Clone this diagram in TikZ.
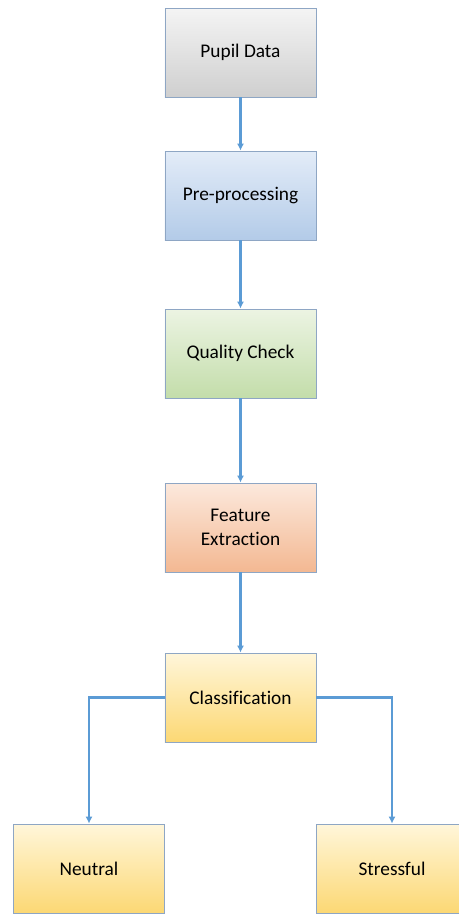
\documentclass[tikz,border=0pt]{standalone}
\usepackage{fontspec}
\setmainfont{Carlito}[Ligatures=NoCommon]
\usetikzlibrary{arrows.meta}

\definecolor{boxline}{HTML}{8EA6C4}
\definecolor{flow}{HTML}{5B9BD5}
\definecolor{grayTop}{HTML}{F4F4F4}
\definecolor{grayBot}{HTML}{CFCFCF}
\definecolor{blueTop}{HTML}{E3ECF8}
\definecolor{blueBot}{HTML}{B3CBE8}
\definecolor{greenTop}{HTML}{ECF4E3}
\definecolor{greenBot}{HTML}{C3DDAA}
\definecolor{orangeTop}{HTML}{FCE9DD}
\definecolor{orangeBot}{HTML}{F3B892}
\definecolor{yellowTop}{HTML}{FFF6DA}
\definecolor{yellowBot}{HTML}{FCD874}

\begin{document}
\begin{tikzpicture}
        [x=0.03cm,y=-0.03cm,
         every node/.style={rectangle,draw=boxline,line width=0.6pt,minimum width=4.53cm,minimum height=2.67cm,inner sep=0pt,align=center,font=\fontsize{16.5}{20}\selectfont},
         gray box/.style={top color=grayTop,bottom color=grayBot},
         blue box/.style={top color=blueTop,bottom color=blueBot},
         green box/.style={top color=greenTop,bottom color=greenBot},
         orange box/.style={top color=orangeTop,bottom color=orangeBot},
         yellow box/.style={top color=yellowTop,bottom color=yellowBot},
         link/.style={draw=flow,line width=2.1pt,-{Latex[length=6pt,width=6pt]}}]
        \clip (0,0) rectangle (459,914);
        \useasboundingbox (0,0) rectangle (459,914);

        \node[gray box] (1) at (240.5, 52.5) {Pupil Data};
        \node[blue box] (2) at (240.5,195.5) {Pre-processing};
        \node[green box] (3) at (240.5,353.5) {Quality Check};
        \node[orange box] (4) at (240.5,527.5) {Feature\\Extraction};
        \node[yellow box] (5) at (240.5,697.5) {Classification};
        \node[yellow box] (6) at ( 89,868.5) {Neutral};
        \node[yellow box] (7) at (392,868.5) {Stressful};

        % the main chain
        \draw[link] (1) -- (2);
        \draw[link] (2) -- (3);
        \draw[link] (3) -- (4);
        \draw[link] (4) -- (5);
        % the two classes
        \draw[link] (5.west) -| (6.north);
        \draw[link] (5.east) -| (7.north);
    \end{tikzpicture}
\end{document}
